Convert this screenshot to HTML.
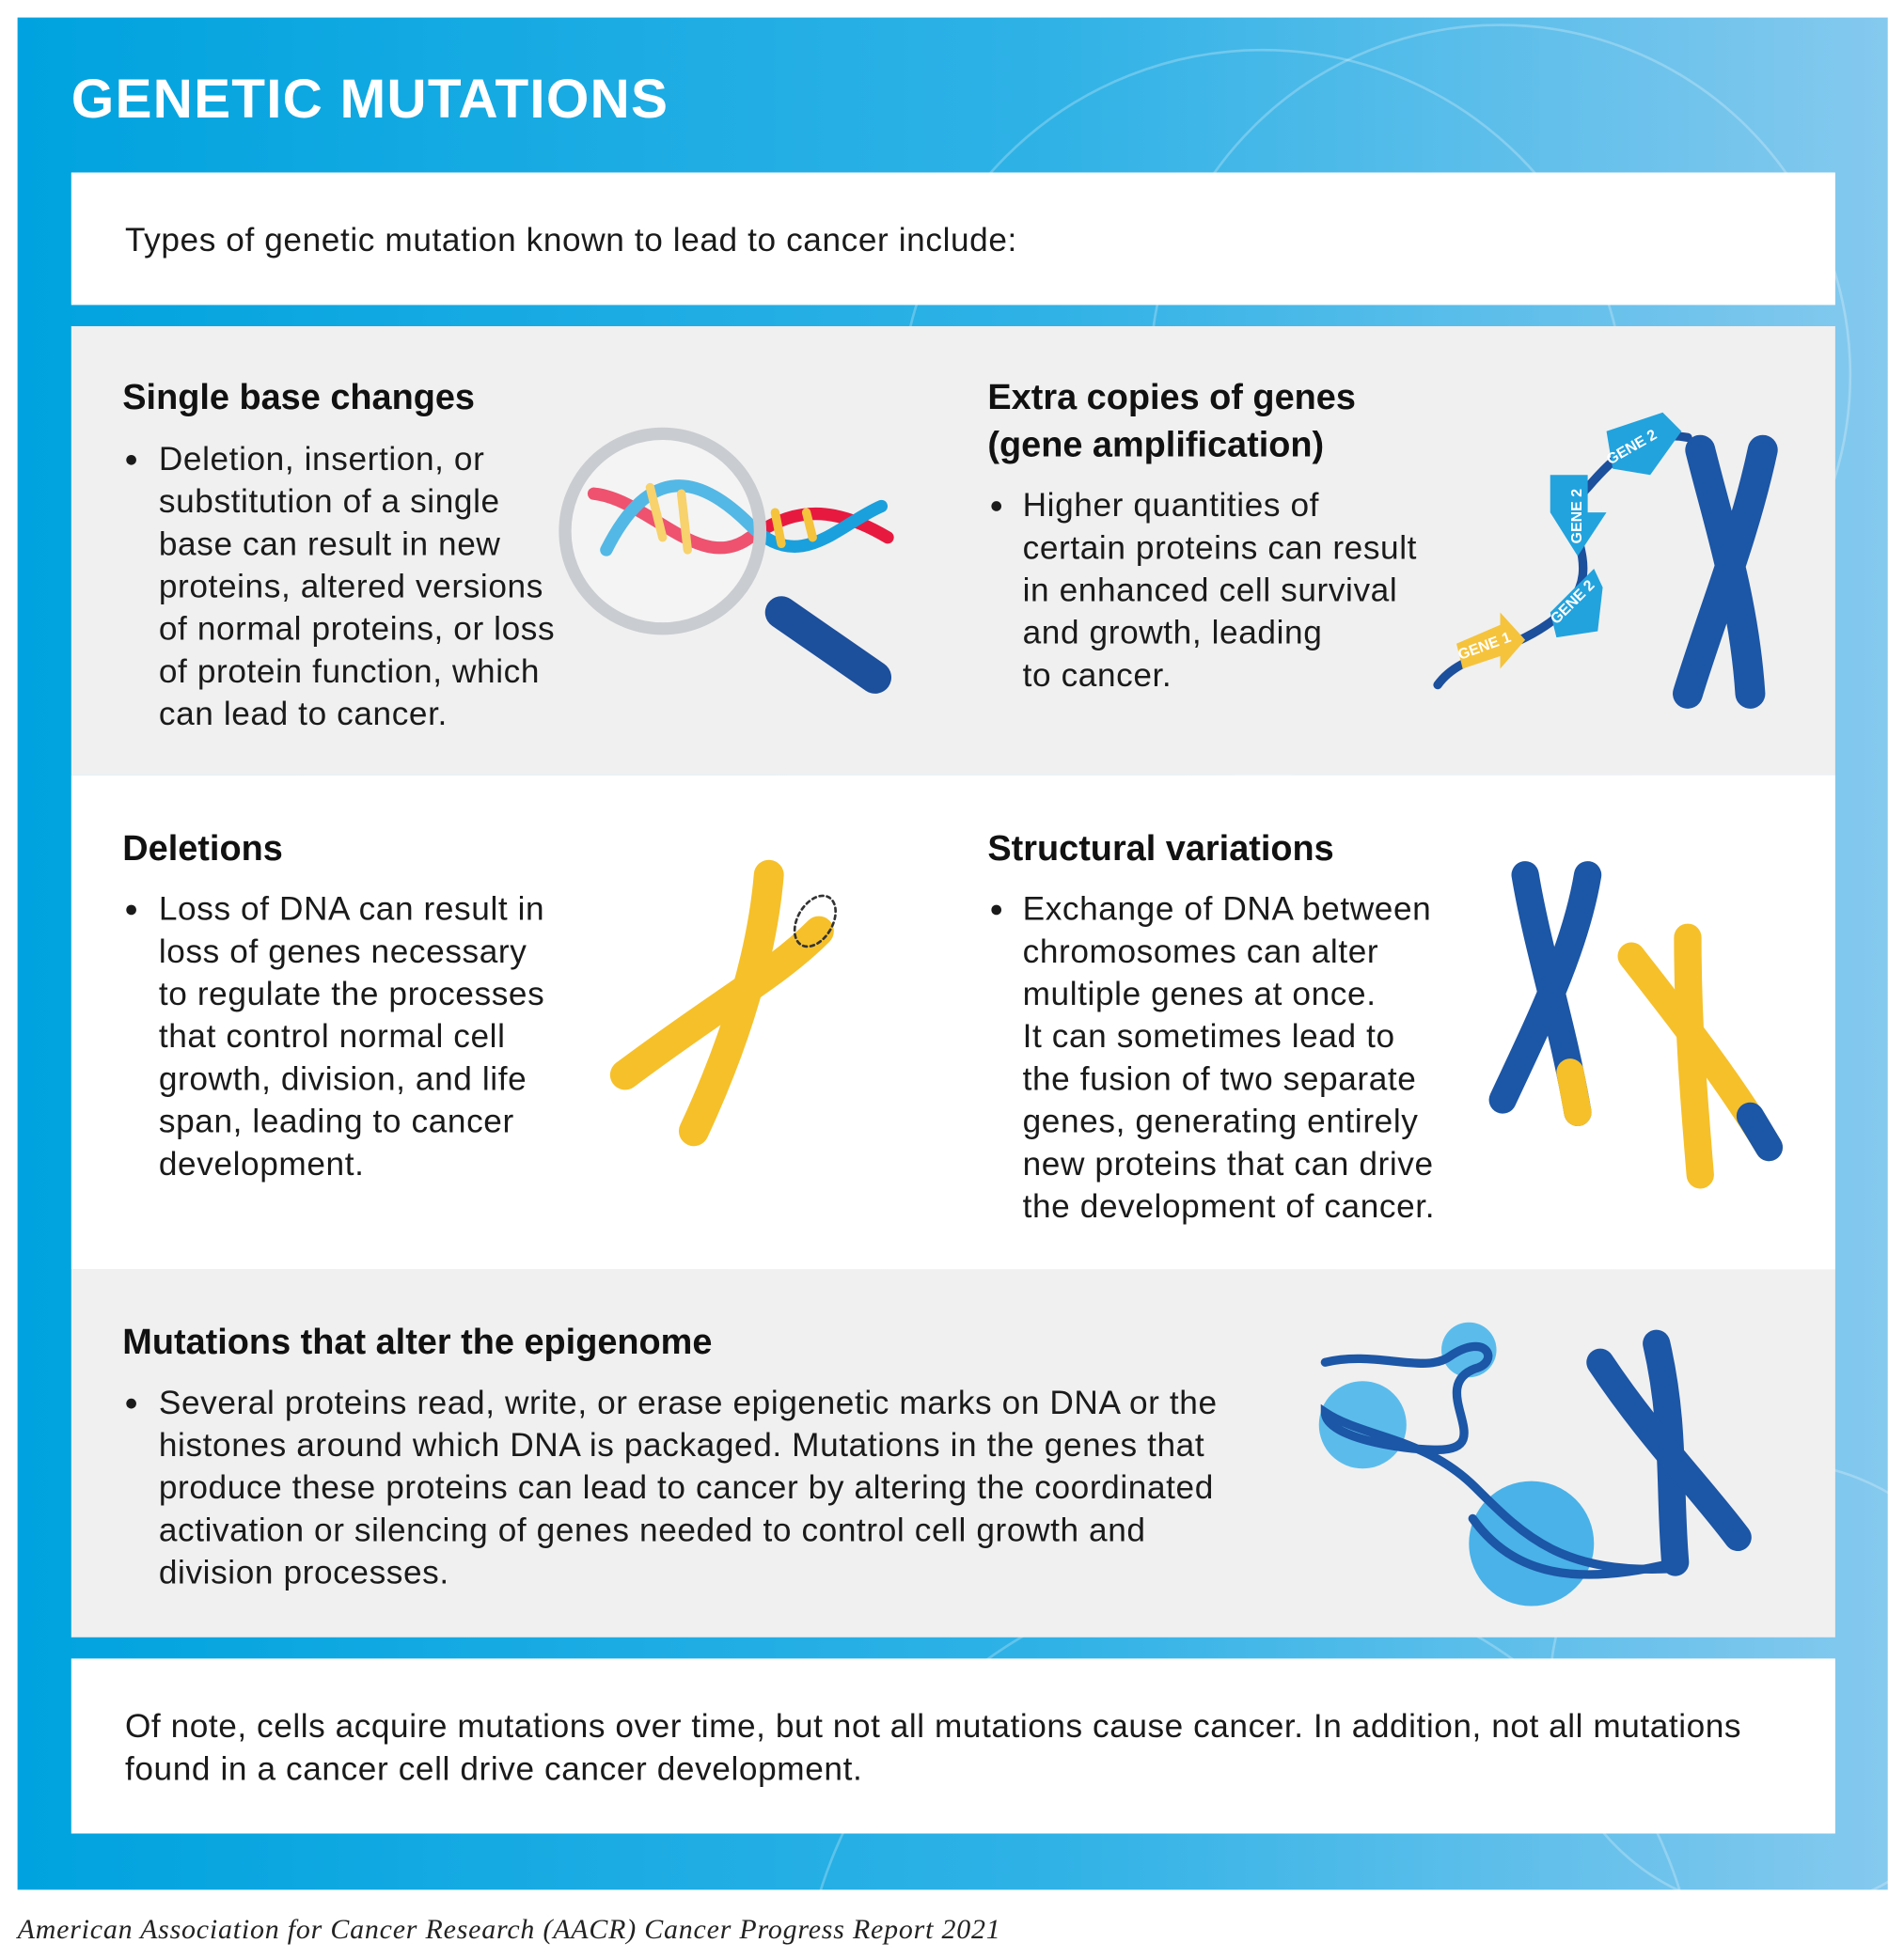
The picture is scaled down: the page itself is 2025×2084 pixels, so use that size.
<!DOCTYPE html>
<html><head><meta charset="utf-8"><style>
html,body{margin:0;padding:0;background:#fff;overflow:hidden;width:2025px;height:2084px}
svg{display:block}
text{font-family:"Liberation Sans",sans-serif;}
.b{font-size:26.5px;fill:#1a1a1a;letter-spacing:0.45px}
.h{font-size:28.5px;font-weight:bold;fill:#111}
</style></head><body>
<svg width="2025" height="2084" viewBox="0 0 1523 1567.4" preserveAspectRatio="none" xmlns="http://www.w3.org/2000/svg">
<defs>
<linearGradient id="bg" x1="0" y1="0" x2="1" y2="0">
<stop offset="0" stop-color="#00a3df"/><stop offset="0.55" stop-color="#2fb2e6"/><stop offset="1" stop-color="#85c9ee"/>
</linearGradient>
</defs>
<rect width="1523" height="1567.4" fill="#fff"/>
<rect x="14" y="14" width="1496" height="1498" fill="url(#bg)"/>
<g fill="none" stroke="#ffffff" stroke-opacity="0.25" stroke-width="2">
<circle cx="1010" cy="330" r="290"/><circle cx="1200" cy="300" r="280"/>
<circle cx="1000" cy="1620" r="360"/><circle cx="1420" cy="1350" r="180"/>
</g>
<text x="57" y="94" font-size="44" font-weight="bold" fill="#fff" textLength="477">GENETIC MUTATIONS</text>
<rect x="57" y="138" width="1411" height="106" fill="#fff"/>
<text x="100" y="201" class="b">Types of genetic mutation known to lead to cancer include:</text>
<rect x="57" y="261" width="1411" height="359" fill="#f0f0f0"/>
<rect x="57" y="620" width="1411" height="396" fill="#fff"/>
<rect x="57" y="1016" width="1411" height="294" fill="#f0f0f0"/>
<rect x="57" y="1327" width="1411" height="140" fill="#fff"/>

<text x="98" y="327" class="h">Single base changes</text>
<circle cx="105" cy="368" r="4" fill="#1a1a1a"/>
<text x="127" y="376" class="b">Deletion, insertion, or</text>
<text x="127" y="410" class="b">substitution of a single</text>
<text x="127" y="444" class="b">base can result in new</text>
<text x="127" y="478" class="b">proteins, altered versions</text>
<text x="127" y="512" class="b">of normal proteins, or loss</text>
<text x="127" y="546" class="b">of protein function, which</text>
<text x="127" y="580" class="b">can lead to cancer.</text>

<text x="790" y="327" class="h">Extra copies of genes</text>
<text x="790" y="365" class="h">(gene amplification)</text>
<circle cx="797" cy="405" r="4" fill="#1a1a1a"/>
<text x="818" y="413" class="b">Higher quantities of</text>
<text x="818" y="447" class="b">certain proteins can result</text>
<text x="818" y="481" class="b">in enhanced cell survival</text>
<text x="818" y="515" class="b">and growth, leading</text>
<text x="818" y="549" class="b">to cancer.</text>

<text x="98" y="688" class="h">Deletions</text>
<circle cx="105" cy="728" r="4" fill="#1a1a1a"/>
<text x="127" y="736" class="b">Loss of DNA can result in</text>
<text x="127" y="770" class="b">loss of genes necessary</text>
<text x="127" y="804" class="b">to regulate the processes</text>
<text x="127" y="838" class="b">that control normal cell</text>
<text x="127" y="872" class="b">growth, division, and life</text>
<text x="127" y="906" class="b">span, leading to cancer</text>
<text x="127" y="940" class="b">development.</text>

<text x="790" y="688" class="h">Structural variations</text>
<circle cx="797" cy="728" r="4" fill="#1a1a1a"/>
<text x="818" y="736" class="b">Exchange of DNA between</text>
<text x="818" y="770" class="b">chromosomes can alter</text>
<text x="818" y="804" class="b">multiple genes at once.</text>
<text x="818" y="838" class="b">It can sometimes lead to</text>
<text x="818" y="872" class="b">the fusion of two separate</text>
<text x="818" y="906" class="b">genes, generating entirely</text>
<text x="818" y="940" class="b">new proteins that can drive</text>
<text x="818" y="974" class="b">the development of cancer.</text>

<text x="98" y="1083" class="h">Mutations that alter the epigenome</text>
<circle cx="105" cy="1123" r="4" fill="#1a1a1a"/>
<text x="127" y="1131" class="b">Several proteins read, write, or erase epigenetic marks on DNA or the</text>
<text x="127" y="1165" class="b">histones around which DNA is packaged. Mutations in the genes that</text>
<text x="127" y="1199" class="b">produce these proteins can lead to cancer by altering the coordinated</text>
<text x="127" y="1233" class="b">activation or silencing of genes needed to control cell growth and</text>
<text x="127" y="1267" class="b">division processes.</text>

<text x="100" y="1390" class="b" textLength="1293">Of note, cells acquire mutations over time, but not all mutations cause cancer. In addition, not all mutations</text>
<text x="100" y="1424" class="b">found in a cancer cell drive cancer development.</text>

<text x="14" y="1551" style="font-family:'Liberation Serif',serif;font-style:italic;font-size:22.5px" fill="#222" textLength="786">American Association for Cancer Research (AACR) Cancer Progress Report 2021</text>

<!-- magnifier -->
<g stroke-linecap="round" fill="none">
<path d="M625 490 L700 542" stroke="#1c4f9c" stroke-width="26"/>
<path d="M475 395 C520 400 560 460 600 430 C630 410 660 400 710 430" stroke="#e8193f" stroke-width="10"/>
<path d="M485 440 C520 370 560 380 600 420 C640 460 670 420 705 405" stroke="#1aa0dc" stroke-width="10"/>
<path d="M520 390 L530 430 M545 395 L550 440 M620 410 L625 435 M645 410 L650 430" stroke="#f5c33c" stroke-width="7"/>
<circle cx="530" cy="425" r="78" stroke="#c9ccd0" stroke-width="10" fill="#ffffff" fill-opacity="0.25"/>
</g>
<!-- gene amplification -->
<g stroke-linecap="round" fill="none">
<path d="M1150 548 C1170 520 1210 525 1250 490 C1290 450 1240 420 1270 390 C1300 355 1320 345 1350 350" stroke="#1c4f9c" stroke-width="7"/>
<path d="M1360 360 C1375 420 1395 480 1400 555 M1410 360 C1395 430 1370 490 1350 555" stroke="#1c56a6" stroke-width="24"/>
</g>
<g font-size="12" font-weight="bold" fill="#fff">
<path d="M1165 515 L1200 500 L1200 490 L1220 512 L1200 535 L1200 525 L1170 535 Z" fill="#f5c33c"/>
<text x="1168" y="528" transform="rotate(-20 1168 528)">GENE 1</text>
<path d="M1240 490 L1275 455 L1282 470 L1278 505 L1245 510 Z" fill="#22a3de"/>
<text x="1245" y="500" transform="rotate(-45 1245 500)">GENE 2</text>
<path d="M1240 380 L1270 380 L1270 410 L1285 410 L1262 445 L1240 410 Z" fill="#22a3de"/>
<text x="1265" y="435" transform="rotate(-90 1265 435)">GENE 2</text>
<path d="M1285 345 L1330 330 L1345 345 L1320 380 L1290 375 Z" fill="#22a3de"/>
<text x="1288" y="372" transform="rotate(-30 1288 372)">GENE 2</text>
</g>
<!-- deletion -->
<g stroke-linecap="round" fill="none">
<path d="M615 700 C610 760 590 830 555 905" stroke="#f6c02a" stroke-width="24"/>
<path d="M655 745 C620 780 580 800 500 860" stroke="#f6c02a" stroke-width="24"/>
<ellipse cx="652" cy="737" rx="14" ry="22" transform="rotate(30 652 737)" stroke="#333" stroke-width="2" stroke-dasharray="3 3"/>
</g>
<!-- structural -->
<g stroke-linecap="round" fill="none">
<path d="M1220 700 C1230 760 1250 820 1262 890" stroke="#1c56a6" stroke-width="22"/>
<path d="M1270 700 C1260 760 1230 820 1202 880" stroke="#1c56a6" stroke-width="22"/>
<path d="M1256 858 L1262 890" stroke="#f6c02a" stroke-width="22"/>
<path d="M1350 750 C1350 820 1355 880 1360 940" stroke="#f6c02a" stroke-width="22"/>
<path d="M1305 765 C1340 810 1380 860 1415 918" stroke="#f6c02a" stroke-width="22"/>
<path d="M1400 893 L1415 918" stroke="#1c56a6" stroke-width="22"/>
</g>
<!-- epigenome -->
<g stroke-linecap="round" fill="none">
<circle cx="1175" cy="1080" r="22" fill="#5bbcec"/>
<circle cx="1090" cy="1140" r="35" fill="#5bbcec"/>
<circle cx="1225" cy="1235" r="50" fill="#4ab2e8"/>
<path d="M1060 1090 C1100 1080 1140 1100 1160 1085 C1190 1065 1200 1090 1180 1095 C1140 1110 1200 1160 1150 1160 C1120 1160 1060 1150 1060 1130 C1090 1150 1140 1150 1180 1190 C1220 1230 1250 1260 1340 1255" stroke="#1c56a6" stroke-width="7"/>
<path d="M1178 1215 C1210 1260 1260 1270 1340 1250" stroke="#1c56a6" stroke-width="7"/>
<path d="M1325 1075 C1340 1140 1335 1190 1340 1250" stroke="#1c56a6" stroke-width="22"/>
<path d="M1280 1090 C1320 1150 1360 1190 1390 1230" stroke="#1c56a6" stroke-width="22"/>
</g>
</svg>
</body></html>
